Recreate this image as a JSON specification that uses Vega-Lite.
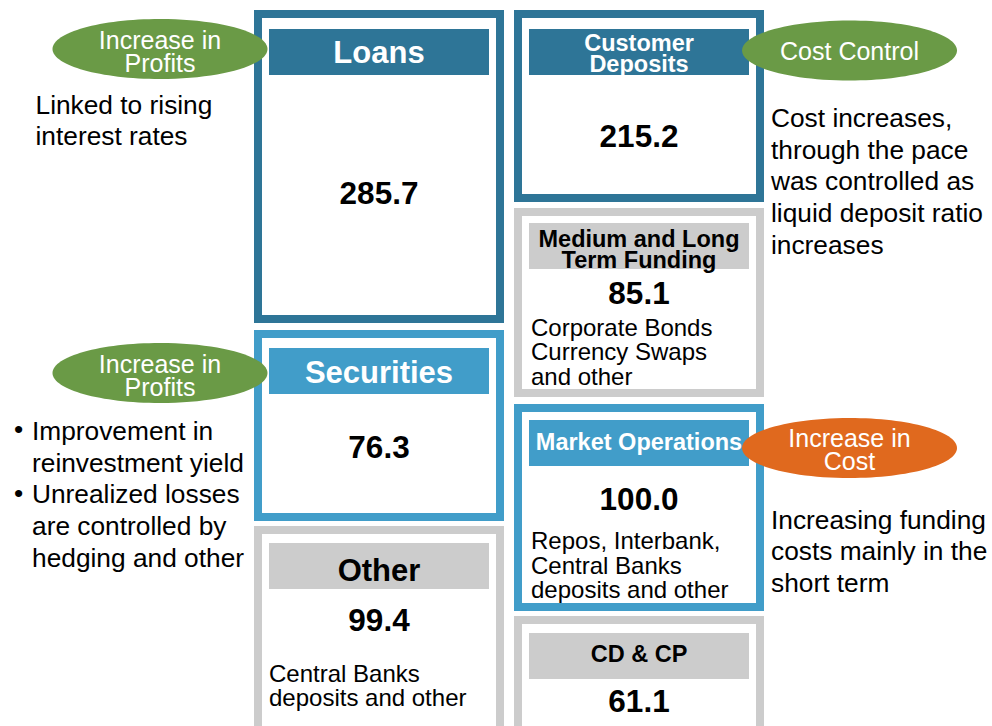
{
  "$schema": "https://vega.github.io/schema/vega-lite/v6.json",
  "width": 992,
  "height": 726,
  "autosize": "none",
  "padding": 0,
  "background": "white",
  "config": {"view": {"stroke": null}},
  "datasets": {
    "blocks": [
      {"item": "Loans", "label": ["Loans"], "side": "left", "tone": "dark", "value": 285.7, "x0": 258, "x1": 500, "y0": 14, "y1": 319, "hy": 29, "ly": 54, "vy": 195, "cx": 379, "desc": null, "dx": null, "dy": null},
      {"item": "Securities", "label": ["Securities"], "side": "left", "tone": "light", "value": 76.3, "x0": 258, "x1": 500, "y0": 334, "y1": 517, "hy": 348, "ly": 374, "vy": 449, "cx": 379, "desc": null, "dx": null, "dy": null},
      {"item": "Other", "label": ["Other"], "side": "left", "tone": "gray", "value": 99.4, "x0": 258, "x1": 500, "y0": 530, "y1": 760, "hy": 543, "ly": 572, "vy": 622, "cx": 379, "desc": ["Central Banks", "deposits and other"], "dx": 269, "dy": 675},
      {"item": "Customer Deposits", "label": ["Customer", "Deposits"], "side": "right", "tone": "dark", "value": 215.2, "x0": 518, "x1": 760, "y0": 14, "y1": 198, "hy": 29, "ly": 43.7, "vy": 138, "cx": 639, "desc": null, "dx": null, "dy": null},
      {"item": "Medium and Long Term Funding", "label": ["Medium and Long", "Term Funding"], "side": "right", "tone": "gray", "value": 85.1, "x0": 518, "x1": 760, "y0": 212, "y1": 393, "hy": 223, "ly": 240, "vy": 295, "cx": 639, "desc": ["Corporate Bonds", "Currency Swaps", "and other"], "dx": 531, "dy": 329},
      {"item": "Market Operations", "label": ["Market Operations"], "side": "right", "tone": "light", "value": 100.0, "x0": 518, "x1": 760, "y0": 408, "y1": 607, "hy": 420, "ly": 443, "vy": 501, "cx": 639, "desc": ["Repos, Interbank,", "Central Banks", "deposits and other"], "dx": 531, "dy": 542.4},
      {"item": "CD & CP", "label": ["CD & CP"], "side": "right", "tone": "gray", "value": 61.1, "x0": 518, "x1": 760, "y0": 620, "y1": 760, "hy": 633, "ly": 655, "vy": 703, "cx": 639, "desc": null, "dx": null, "dy": null}
    ],
    "callouts": [
      {"effect": "profit", "lines": ["Increase in", "Profits"], "cx": 160, "cy": 49, "ty": 40.5},
      {"effect": "profit", "lines": ["Increase in", "Profits"], "cx": 160, "cy": 373, "ty": 364.8},
      {"effect": "profit", "lines": ["Cost Control"], "cx": 849.5, "cy": 50.5, "ty": 52},
      {"effect": "cost", "lines": ["Increase in", "Cost"], "cx": 849.5, "cy": 448, "ty": 438.5}
    ],
    "notes": [
      {"lines": ["Linked to rising", "interest rates"], "x": 35.5, "y": 105.5},
      {"lines": ["•"], "x": 14, "y": 430},
      {"lines": ["•"], "x": 14, "y": 494},
      {"lines": ["Improvement in", "reinvestment yield", "Unrealized losses", "are controlled by", "hedging and other"], "x": 32, "y": 432},
      {"lines": ["Cost increases,", "through the pace", "was controlled as", "liquid deposit ratio", "increases"], "x": 771, "y": 119},
      {"lines": ["Increasing funding", "costs mainly in the", "short term"], "x": 771, "y": 520.5}
    ]
  },
  "layer": [
    {
      "data": {"name": "blocks"},
      "mark": {"type": "rect", "fill": "white", "strokeWidth": 8},
      "encoding": {
        "x": {"field": "x0", "type": "quantitative", "scale": {"domain": [0, 992], "nice": false, "zero": false}, "axis": null},
        "x2": {"field": "x1"},
        "y": {"field": "y0", "type": "quantitative", "scale": {"domain": [0, 726], "nice": false, "zero": false, "reverse": true}, "axis": null},
        "y2": {"field": "y1"},
        "stroke": {"field": "tone", "type": "nominal", "scale": {"domain": ["dark", "light", "gray"], "range": ["#2E7597", "#419DC9", "#CCCCCC"]}, "legend": null}
      }
    },
    {
      "data": {"name": "blocks"},
      "mark": {"type": "rect", "xOffset": 11, "x2Offset": -11, "y2Offset": 46},
      "encoding": {
        "x": {"field": "x0", "type": "quantitative", "scale": {"domain": [0, 992], "nice": false, "zero": false}, "axis": null},
        "x2": {"field": "x1"},
        "y": {"field": "hy", "type": "quantitative", "scale": {"domain": [0, 726], "nice": false, "zero": false, "reverse": true}, "axis": null},
        "y2": {"field": "hy"},
        "fill": {"field": "tone", "type": "nominal", "scale": {"domain": ["dark", "light", "gray"], "range": ["#2E7597", "#419DC9", "#CCCCCC"]}, "legend": null}
      }
    },
    {
      "data": {"name": "blocks"},
      "transform": [{"filter": "datum.side === 'left'"}],
      "mark": {"type": "text", "font": "Liberation Sans", "fontWeight": "bold", "fontSize": 31, "align": "center", "baseline": "middle", "lineHeight": 20.5},
      "encoding": {
        "x": {"field": "cx", "type": "quantitative", "scale": {"domain": [0, 992], "nice": false, "zero": false}, "axis": null},
        "y": {"field": "ly", "type": "quantitative", "scale": {"domain": [0, 726], "nice": false, "zero": false, "reverse": true}, "axis": null},
        "text": {"field": "label", "type": "nominal"},
        "color": {"condition": {"test": "datum.tone === 'gray'", "value": "#000000"}, "value": "#FFFFFF"}
      }
    },
    {
      "data": {"name": "blocks"},
      "transform": [{"filter": "datum.side === 'right'"}],
      "mark": {"type": "text", "font": "Liberation Sans", "fontWeight": "bold", "fontSize": 23.5, "align": "center", "baseline": "middle", "lineHeight": 20.8},
      "encoding": {
        "x": {"field": "cx", "type": "quantitative", "scale": {"domain": [0, 992], "nice": false, "zero": false}, "axis": null},
        "y": {"field": "ly", "type": "quantitative", "scale": {"domain": [0, 726], "nice": false, "zero": false, "reverse": true}, "axis": null},
        "text": {"field": "label", "type": "nominal"},
        "color": {"condition": {"test": "datum.tone === 'gray'", "value": "#000000"}, "value": "#FFFFFF"}
      }
    },
    {
      "data": {"name": "blocks"},
      "mark": {"type": "text", "font": "Liberation Sans", "fontWeight": "bold", "fontSize": 31.5, "align": "center", "baseline": "middle", "color": "#000000"},
      "encoding": {
        "x": {"field": "cx", "type": "quantitative", "scale": {"domain": [0, 992], "nice": false, "zero": false}, "axis": null},
        "y": {"field": "vy", "type": "quantitative", "scale": {"domain": [0, 726], "nice": false, "zero": false, "reverse": true}, "axis": null},
        "text": {"field": "value", "type": "quantitative", "format": ".1f"}
      }
    },
    {
      "data": {"name": "blocks"},
      "transform": [{"filter": "isValid(datum.desc)"}],
      "mark": {"type": "text", "font": "Liberation Sans", "fontSize": 24, "align": "left", "baseline": "middle", "lineHeight": 24.3, "color": "#000000"},
      "encoding": {
        "x": {"field": "dx", "type": "quantitative", "scale": {"domain": [0, 992], "nice": false, "zero": false}, "axis": null},
        "y": {"field": "dy", "type": "quantitative", "scale": {"domain": [0, 726], "nice": false, "zero": false, "reverse": true}, "axis": null},
        "text": {"field": "desc", "type": "nominal"}
      }
    },
    {
      "data": {"name": "callouts"},
      "mark": {"type": "point", "filled": true, "opacity": 1, "strokeWidth": 0, "size": 46225, "shape": "M -1 0 C -1 -0.154 -0.552 -0.279 0 -0.279 C 0.552 -0.279 1 -0.154 1 0 C 1 0.154 0.552 0.279 0 0.279 C -0.552 0.279 -1 0.154 -1 0 Z"},
      "encoding": {
        "x": {"field": "cx", "type": "quantitative", "scale": {"domain": [0, 992], "nice": false, "zero": false}, "axis": null},
        "y": {"field": "cy", "type": "quantitative", "scale": {"domain": [0, 726], "nice": false, "zero": false, "reverse": true}, "axis": null},
        "color": {"field": "effect", "type": "nominal", "scale": {"domain": ["profit", "cost"], "range": ["#6A9A46", "#E0691E"]}, "legend": null}
      }
    },
    {
      "data": {"name": "callouts"},
      "mark": {"type": "text", "font": "Liberation Sans", "fontSize": 25, "align": "center", "baseline": "middle", "lineHeight": 23.5, "fill": "#FFFFFF"},
      "encoding": {
        "x": {"field": "cx", "type": "quantitative", "scale": {"domain": [0, 992], "nice": false, "zero": false}, "axis": null},
        "y": {"field": "ty", "type": "quantitative", "scale": {"domain": [0, 726], "nice": false, "zero": false, "reverse": true}, "axis": null},
        "text": {"field": "lines", "type": "nominal"}
      }
    },
    {
      "data": {"name": "notes"},
      "mark": {"type": "text", "font": "Liberation Sans", "fontSize": 26.3, "align": "left", "baseline": "middle", "lineHeight": 31.7, "fill": "#000000"},
      "encoding": {
        "x": {"field": "x", "type": "quantitative", "scale": {"domain": [0, 992], "nice": false, "zero": false}, "axis": null},
        "y": {"field": "y", "type": "quantitative", "scale": {"domain": [0, 726], "nice": false, "zero": false, "reverse": true}, "axis": null},
        "text": {"field": "lines", "type": "nominal"}
      }
    }
  ]
}
